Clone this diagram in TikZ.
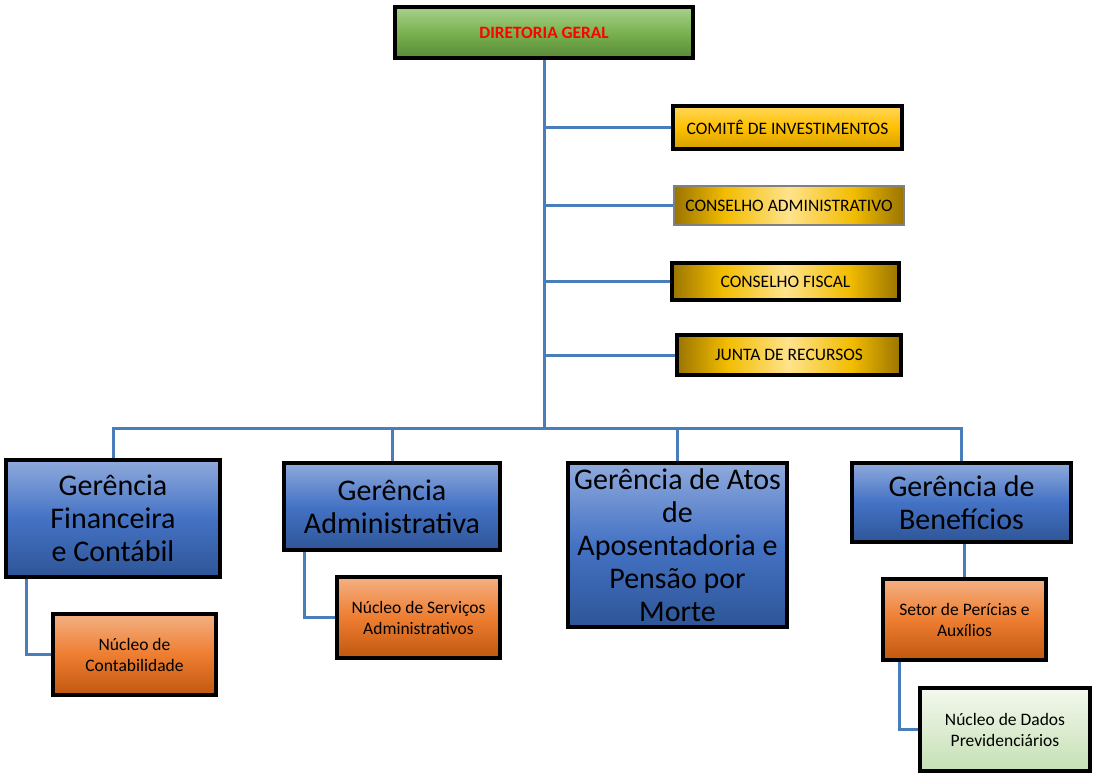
\documentclass[tikz,border=0pt]{standalone}
\usepackage{fontspec}
\setmainfont{Carlito}
\usetikzlibrary{calc}
\pgfdeclarelayer{background}
\pgfsetlayers{background,main}
\definecolor{linec}{HTML}{4A7EBB}
\definecolor{gdark}{HTML}{9A7400}
\definecolor{ggold}{HTML}{F2BC00}
\definecolor{glight}{HTML}{FFE38C}
\definecolor{grtop}{HTML}{A8D18C}
\definecolor{grmid}{HTML}{7AB250}
\definecolor{grbot}{HTML}{588A38}
\definecolor{gvtop}{HTML}{FFD65A}
\definecolor{gvmid}{HTML}{FFC000}
\definecolor{gvbot}{HTML}{D4A000}
\definecolor{bltop}{HTML}{8FAADC}
\definecolor{blmid}{HTML}{4472C4}
\definecolor{blbot}{HTML}{2E5597}
\definecolor{ortop}{HTML}{F4B183}
\definecolor{ormid}{HTML}{ED7D31}
\definecolor{orbot}{HTML}{C0580F}
\definecolor{lgtop}{HTML}{F4F8EE}
\definecolor{lgbot}{HTML}{C5E0B4}
\definecolor{redtxt}{HTML}{FF0000}
\definecolor{thingray}{HTML}{808080}
\pgfdeclarehorizontalshading{goldh}{100bp}{color(0bp)=(gdark); color(25bp)=(gdark); color(36bp)=(ggold); color(50bp)=(glight); color(64bp)=(ggold); color(75bp)=(gdark); color(100bp)=(gdark)}
\tikzset{
  boxb/.style={draw=black, line width=3.5pt, inner sep=1pt, align=center, text=black},
  greenbox/.style={boxb, top color=grtop, bottom color=grbot, middle color=grmid},
  goldv/.style={boxb, top color=gvtop, bottom color=gvbot, middle color=gvmid, font=\fontsize{17.5}{21}\selectfont},
  goldhb/.style={boxb, shading=goldh, font=\fontsize{17.5}{21}\selectfont},
  bluebox/.style={boxb, top color=bltop, bottom color=blbot, middle color=blmid, font=\fontsize{30}{33}\selectfont},
  orangebox/.style={boxb, top color=ortop, bottom color=orbot, middle color=ormid, font=\fontsize{17.5}{21}\selectfont},
  lgreenbox/.style={boxb, top color=lgtop, bottom color=lgbot, font=\fontsize{17.5}{21}\selectfont},
  conn/.style={draw=linec, line width=3pt}
}
\begin{document}
\begin{tikzpicture}[x=1pt,y=-1pt]
\useasboundingbox (0,0) rectangle (1094,777);
% boxes
\node[greenbox, minimum width=298pt, minimum height=51pt, font=\fontsize{17.3}{21}\selectfont\bfseries, text=redtxt] (dg) at (544,32.5) {DIRETORIA GERAL};
\node[goldv, minimum width=229pt, minimum height=43pt] (ci) at (787.5,127.5) {COMITÊ DE INVESTIMENTOS};
\node[goldhb, draw=thingray, line width=1.5pt, minimum width=230pt, minimum height=39pt] (ca) at (789,205.5) {CONSELHO ADMINISTRATIVO};
\node[goldhb, minimum width=227pt, minimum height=37pt] (cf) at (785.5,281.5) {CONSELHO FISCAL};
\node[goldhb, minimum width=224pt, minimum height=40pt] (jr) at (789,355) {JUNTA DE RECURSOS};
\node[bluebox, minimum width=214pt, minimum height=117pt] (gfc) at (113,518.5) {Gerência\\Financeira\\e Contábil};
\node[bluebox, minimum width=216pt, minimum height=87pt] (ga) at (392,506.5) {Gerência\\Administrativa};
\node[bluebox, minimum width=219pt, minimum height=164pt] (gaapm) at (677.5,545) {Gerência de Atos\\de\\Aposentadoria e\\Pensão por\\Morte};
\node[bluebox, minimum width=219pt, minimum height=79pt] (gb) at (961.5,502.5) {Gerência de\\Benefícios};
\node[orangebox, minimum width=163pt, minimum height=81pt] (nc) at (134.5,654.5) {Núcleo de\\Contabilidade};
\node[orangebox, minimum width=163pt, minimum height=81pt] (nsa) at (418.5,617.5) {Núcleo de Serviços\\Administrativos};
\node[orangebox, minimum width=163pt, minimum height=81pt] (spa) at (964.5,619.5) {Setor de Perícias e\\Auxílios};
\node[lgreenbox, minimum width=170pt, minimum height=83pt] (ndp) at (1005,729.5) {Núcleo de Dados\\Previdenciários};
% connectors
\begin{pgfonlayer}{background}
\coordinate (bus) at (544,428);
\draw[conn] (dg.south) -- (bus);
\draw[conn] (dg.south) |- (ci.west);
\draw[conn] (dg.south) |- (ca.west);
\draw[conn] (dg.south) |- (cf.west);
\draw[conn] (dg.south) |- (jr.west);
\draw[conn] (gfc.north) |- (bus);
\draw[conn] (ga.north) |- (bus);
\draw[conn] (gaapm.north) |- (bus);
\draw[conn] (gb.north) |- (bus);
\draw[conn] ($(gfc.south west)+(22,0)$) |- (nc.west);
\draw[conn] ($(ga.south west)+(22,0)$) |- (nsa.west);
\draw[conn] (spa.north) -- (spa.north |- gb.south);
\draw[conn] ($(spa.south west)+(18,0)$) |- (ndp.west);
\end{pgfonlayer}
\end{tikzpicture}
\end{document}
